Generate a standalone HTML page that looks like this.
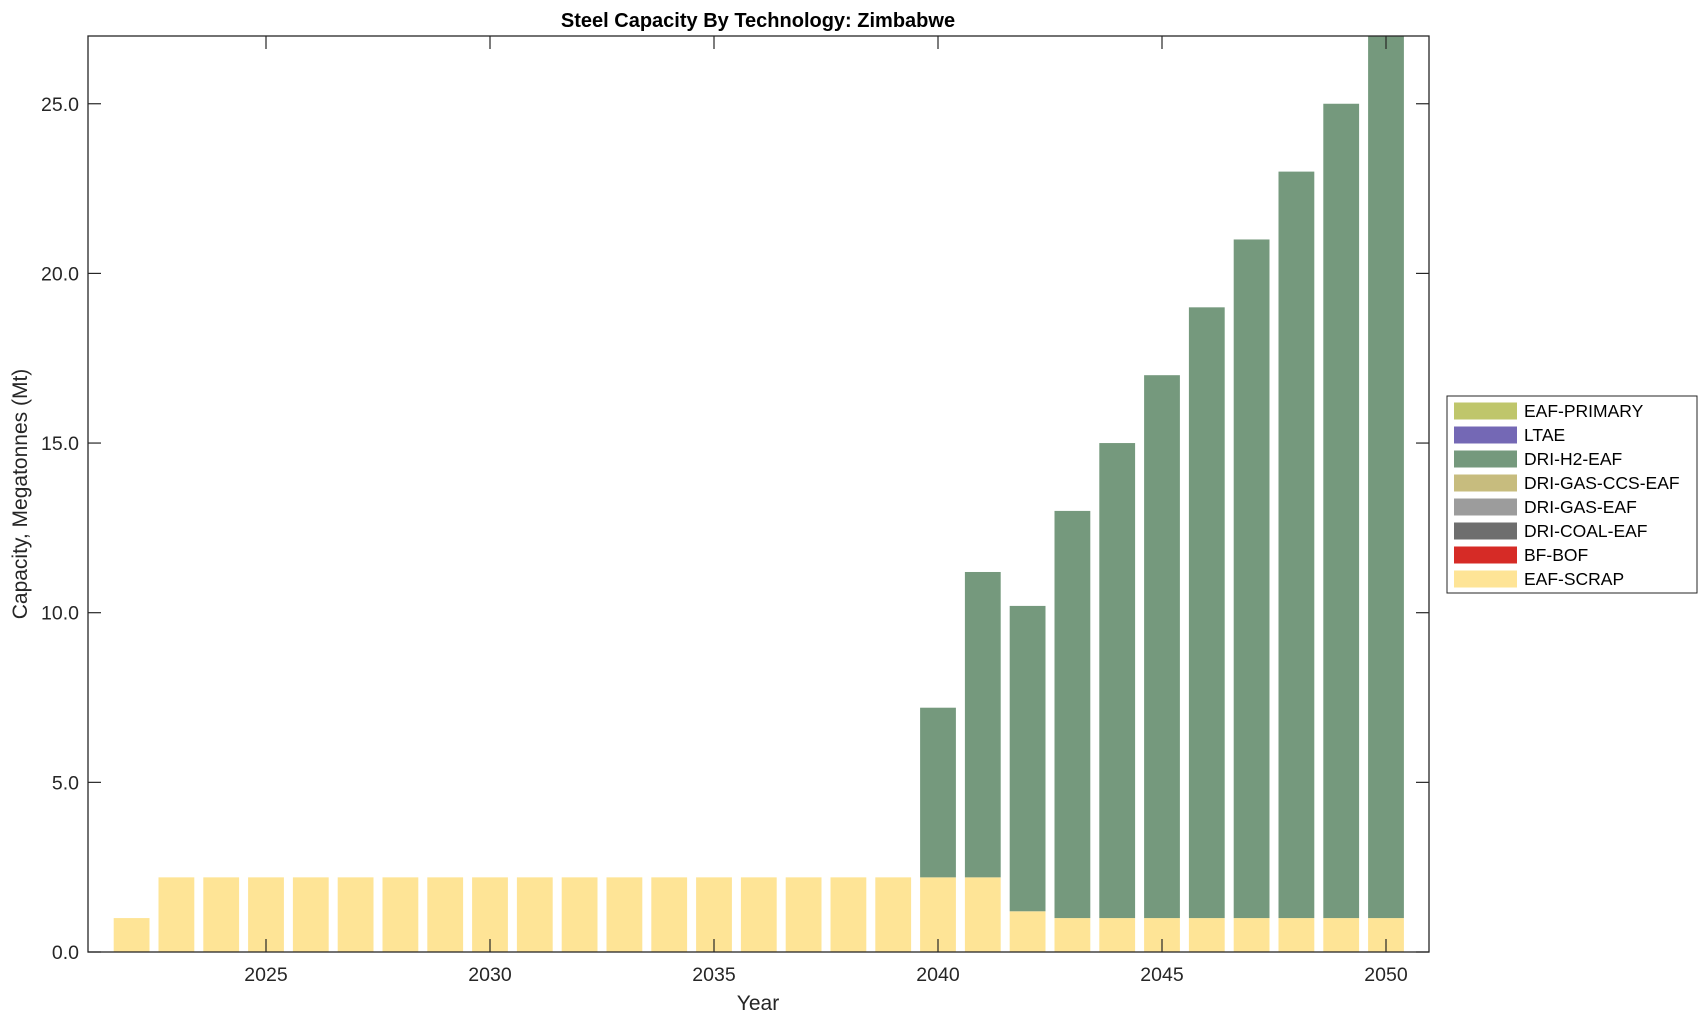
<!DOCTYPE html>
<html><head><meta charset="utf-8"><style>
html,body{margin:0;padding:0;background:#fff;}
svg{display:block;font-family:"Liberation Sans",Arial,sans-serif;}
</style></head><body>
<svg id="s" width="1708" height="1021" viewBox="0 0 1708 1021" xmlns="http://www.w3.org/2000/svg">
<g id="bars"></g>
<rect x="88" y="36" width="1341" height="916" fill="none" stroke="#262626" stroke-width="1.3"/>
<g id="ticks" stroke="#262626" stroke-width="1.2"></g>
<g id="labels" fill="#262626" font-size="19.5"></g>
<text x="758" y="27" text-anchor="middle" font-size="20" font-weight="bold" fill="#000">Steel Capacity By Technology: Zimbabwe</text>
<text x="758" y="1010" text-anchor="middle" font-size="21" fill="#262626">Year</text>
<text transform="translate(27,494) rotate(-90)" text-anchor="middle" font-size="21" fill="#262626">Capacity, Megatonnes (Mt)</text>
<rect x="1447" y="396" width="250" height="197" fill="#fff" stroke="#262626" stroke-width="1"/>
<g id="legend" font-size="17.5" fill="#000"></g>
</svg>
<script>
const ns="http://www.w3.org/2000/svg";
function el(p,t,a,txt){const e=document.createElementNS(ns,t);for(const k in a)e.setAttribute(k,a[k]);if(txt)e.textContent=txt;document.getElementById(p).appendChild(e);}
const X=y=>266+(y-2025)*44.8, Y=v=>952-v*33.93;
const data={2022:[1,0]};
for(let y=2023;y<=2039;y++)data[y]=[2.2,0];
Object.assign(data,{2040:[2.2,5],2041:[2.2,9],2042:[1.2,9],2043:[1,12],2044:[1,14],2045:[1,16],2046:[1,18],2047:[1,20],2048:[1,22],2049:[1,24],2050:[1,26]});
for(const y in data){const [a,b]=data[y];const x=X(+y)-17.9;
el("bars","rect",{x:x,y:Y(a),width:35.8,height:a*33.93,fill:"#fee496"});
if(b){let top=Math.max(Y(a+b),36);el("bars","rect",{x:x,y:top,width:35.8,height:Y(a)-top,fill:"#75997d"});}}
for(let y=2025;y<=2050;y+=5){const x=X(y);el("ticks","line",{x1:x,y1:952,x2:x,y2:939});el("ticks","line",{x1:x,y1:36,x2:x,y2:49});
el("labels","text",{x:x,y:981,"text-anchor":"middle"},String(y));}
for(let v=0;v<=25;v+=5){const y=Y(v);el("ticks","line",{x1:88,y1:y,x2:101,y2:y});el("ticks","line",{x1:1429,y1:y,x2:1416,y2:y});
el("labels","text",{x:79,y:y+7,"text-anchor":"end"},v.toFixed(1));}
const leg=[["EAF-PRIMARY","#bfc66b"],["LTAE","#7468b5"],["DRI-H2-EAF","#75997d"],["DRI-GAS-CCS-EAF","#c7bc7e"],["DRI-GAS-EAF","#9c9c9c"],["DRI-COAL-EAF","#6e6e6e"],["BF-BOF","#d62b26"],["EAF-SCRAP","#fee496"]];
leg.forEach((l,i)=>{const cy=411+i*24;el("legend","rect",{x:1454,y:cy-8.5,width:63,height:17,fill:l[1]});el("legend","text",{x:1524,y:cy+6},l[0]);});
</script>
</body></html>
